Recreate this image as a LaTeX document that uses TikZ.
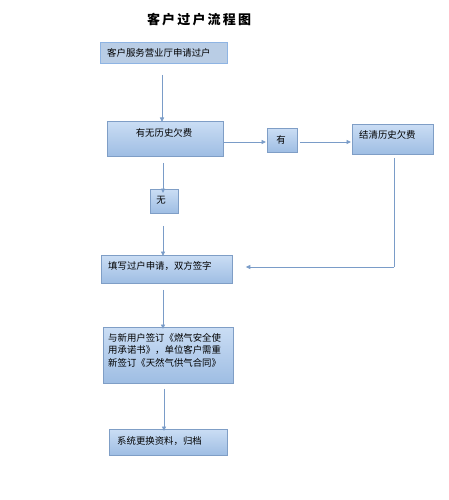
\documentclass[tikz,border=0pt]{standalone}
\usepackage{fontspec}
\setmainfont{Noto Sans CJK SC}
\usetikzlibrary{arrows.meta}
\definecolor{boxtop}{HTML}{CADDF4}
\definecolor{boxbot}{HTML}{9EBDE3}
\definecolor{boxline}{HTML}{7F9EC6}
\definecolor{flatfill}{HTML}{B9CDE5}
\definecolor{flatline}{HTML}{8EB4E3}
\definecolor{conn}{HTML}{7A9CC8}
\tikzset{
  gbox/.style={draw=boxline, line width=0.8pt, top color=boxtop, bottom color=boxbot, inner sep=0pt, anchor=north west},
  fbox/.style={draw=flatline, line width=0.8pt, fill=flatfill, inner sep=0pt, anchor=north west},
  txt/.style={inner sep=0pt, font=\fontsize{9.4}{12.5}\selectfont, text=black},
  conn/.style={draw=conn, line width=0.9pt, -{Triangle[length=4.5pt,width=4pt]}},
  plain/.style={draw=conn, line width=0.9pt},
}
\begin{document}
\begin{tikzpicture}[x=1pt,y=-1pt]
\useasboundingbox (0,0) rectangle (448,500);
% title
\node[inner sep=0pt, font=\fontsize{13}{13}\selectfont\bfseries] (title) at (199,20) {客\,户\,过\,户\,流\,程\,图};
% boxes
\node[fbox, minimum width=127pt, minimum height=21pt] (b1) at (100,42) {};
\node[txt, anchor=west] (t1) at (107,53) {客户服务营业厅申请过户};
\node[gbox, minimum width=116pt, minimum height=35pt] (b2) at (107,121) {};
\node[txt] (t2) at (164,133) {有无历史欠费};
\node[gbox, minimum width=30pt, minimum height=24pt] (b3) at (267,128) {};
\node[txt] (t3) at (281,140) {有};
\node[gbox, minimum width=81pt, minimum height=30pt] (b4) at (352,124) {};
\node[txt, anchor=west] (t4) at (359,135) {结清历史欠费};
\node[gbox, minimum width=28pt, minimum height=24pt] (b5) at (150,189) {};
\node[txt] (t5) at (161,200) {无};
\node[gbox, minimum width=131pt, minimum height=28pt] (b6) at (101,255) {};
\node[txt, anchor=west] (t6) at (108,266) {填写过户申请，双方签字};
\node[gbox, minimum width=130pt, minimum height=56pt] (b7) at (103,327) {};
\node[txt, anchor=north west, align=left] (t7) at (108,333) {与新用户签订《燃气安全使\\用承诺书》，单位客户需重\\新签订《天然气供气合同》};
\node[gbox, minimum width=118pt, minimum height=26pt] (b8) at (109,429) {};
\node[txt, anchor=west] (t8) at (117,441) {系统更换资料，归档};
% connectors
\coordinate (c1) at (394,267);
\draw[conn] ([yshift=-11pt]b1.south -| 162,0) -- ([yshift=-1pt]b2.north -| 162,0);
\draw[conn] (b2.east |- 0,142) -- ([xshift=-1pt]b3.west |- 0,142);
\draw[conn] ([xshift=2pt]b3.east |- 0,142) -- ([xshift=-1pt]b4.west |- 0,142);
\draw[conn] ([yshift=-6pt]b2.south -| 163,0) -- ([yshift=-4pt]b5.north -| 163,0);
\draw[conn] ([yshift=-12pt]b5.south -| 163,0) -- ([yshift=-1pt]b6.north -| 163,0);
\draw[conn] ([yshift=-6pt]b6.south -| 163,0) -- ([yshift=-2pt]b7.north -| 163,0);
\draw[conn] ([yshift=-5pt]b7.south -| 164,0) -- ([yshift=-2pt]b8.north -| 164,0);
\draw[plain] ([yshift=-3pt]b4.south -| 394,0) -- (c1);
\draw[conn] (c1) -- ([xshift=13pt]b6.east |- c1);
\end{tikzpicture}
\end{document}
